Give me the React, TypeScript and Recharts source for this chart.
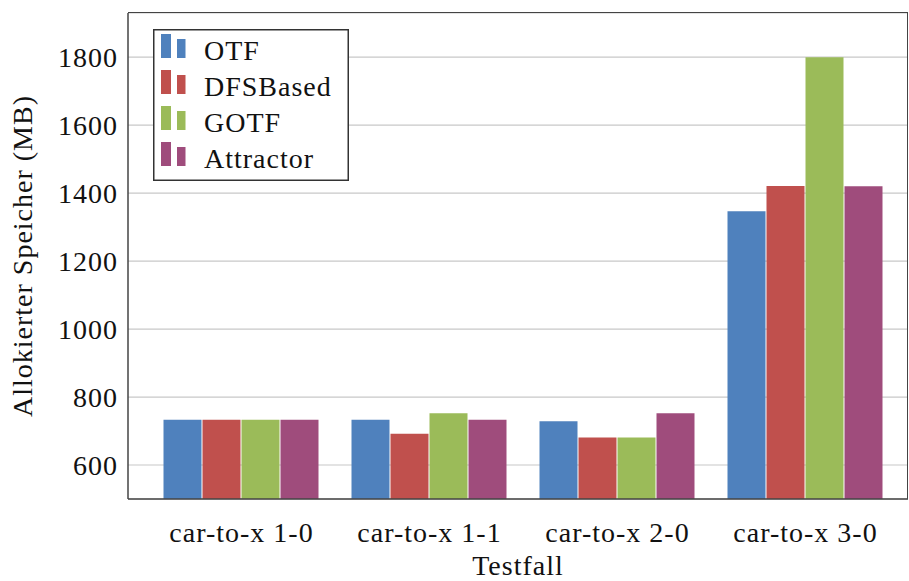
import React from 'react';
import {
  BarChart,
  Bar,
  XAxis,
  YAxis,
  CartesianGrid,
} from 'recharts';

const categories = ['car-to-x 1-0', 'car-to-x 1-1', 'car-to-x 2-0', 'car-to-x 3-0'];
const otf = [733, 733, 729, 1347];
const dfsBased = [733, 692, 681, 1421];
const gotf = [733, 752, 681, 1800];
const attractor = [733, 733, 752, 1420];
const yTicks = [600, 800, 1000, 1200, 1400, 1600, 1800];

const SERIES = [
  { key: 'otf', name: 'OTF', color: '#4f81bd' },
  { key: 'dfs', name: 'DFSBased', color: '#c0504d' },
  { key: 'gotf', name: 'GOTF', color: '#9bbb59' },
  { key: 'attr', name: 'Attractor', color: '#9f4c7c' },
];

const FONT = "'Liberation Serif', 'DejaVu Serif', serif";
const AXIS = '#444';

const chartData = categories.map((name, i) => ({
  name,
  otf: otf[i],
  dfs: dfsBased[i],
  gotf: gotf[i],
  attr: attractor[i],
}));

function BarLegend() {
  // pgfplots-style legend: two small bars per entry
  return (
    <svg width={196} height={152} style={{ display: 'block' }}>
      <rect x={0.75} y={0.75} width={194.5} height={150.5} fill="#fff" stroke="#333" strokeWidth={1.5} />
      {SERIES.map((s, i) => (
        <g key={s.key}>
          <rect x={8} y={5 + 36 * i} width={10} height={24} fill={s.color} />
          <rect x={24} y={10 + 36 * i} width={8.5} height={19} fill={s.color} />
          <text
            x={51}
            y={31 + 36 * i}
            style={{ fontFamily: FONT, fontSize: 28, letterSpacing: 1 }}
            fill="#111"
          >
            {s.name}
          </text>
        </g>
      ))}
    </svg>
  );
}

export default function App() {
  return (
    <div style={{ position: 'absolute', left: 0, top: 0, width: 909, height: 581, background: '#fff', fontFamily: FONT }}>
      <BarChart
        width={909}
        height={581}
        data={chartData}
        margin={{ top: 13, right: 1, bottom: 0, left: 0 }}
        barCategoryGap={16}
        barGap={1}
      >
        <CartesianGrid vertical={false} stroke="#c8c8c8" strokeWidth={1.2} />
        <XAxis
          dataKey="name"
          height={82}
          padding={{ left: 19.5, right: 8.5 }}
          axisLine={{ stroke: AXIS, strokeWidth: 1.5 }}
          tickLine={false}
          tickSize={0}
          tickMargin={23}
          tick={{ fontFamily: FONT, fontSize: 28, fill: '#111', letterSpacing: 1 }}
          label={{
            value: 'Testfall',
            position: 'insideBottom',
            offset: 6,
            style: { fontFamily: FONT, fontSize: 28, fill: '#111', letterSpacing: 1 },
          }}
        />
        <YAxis
          width={128}
          domain={[500, 1930]}
          ticks={yTicks}
          allowDataOverflow
          axisLine={{ stroke: AXIS, strokeWidth: 1.5 }}
          tickLine={false}
          tickSize={0}
          tickMargin={10}
          tick={{ fontFamily: FONT, fontSize: 28, fill: '#111', letterSpacing: 1 }}
          label={{
            content: (props: any) => {
              const vb = props.viewBox || {};
              const cy = (vb.y ?? 13) + (vb.height ?? 486) / 2;
              const cx = 22;
              return (
                <text
                  x={cx}
                  y={cy}
                  transform={`rotate(-90 ${cx} ${cy})`}
                  textAnchor="middle"
                  dominantBaseline="central"
                  style={{ fontFamily: FONT, fontSize: 28, letterSpacing: 1 }}
                  fill="#111"
                >
                  Allokierter Speicher (MB)
                </text>
              );
            },
          }}
        />
        {SERIES.map((s) => (
          <Bar key={s.key} dataKey={s.key} name={s.name} fill={s.color} isAnimationActive={false} />
        ))}
      </BarChart>
      {/* top and right frame lines of the axis box */}
      <div
        style={{
          position: 'absolute',
          left: 128,
          top: 12.25,
          width: 779,
          height: 486,
          borderTop: `1.5px solid ${AXIS}`,
          borderRight: `1.5px solid ${AXIS}`,
          pointerEvents: 'none',
        }}
      />
      <div style={{ position: 'absolute', left: 153, top: 29 }}>
        <BarLegend />
      </div>
    </div>
  );
}
